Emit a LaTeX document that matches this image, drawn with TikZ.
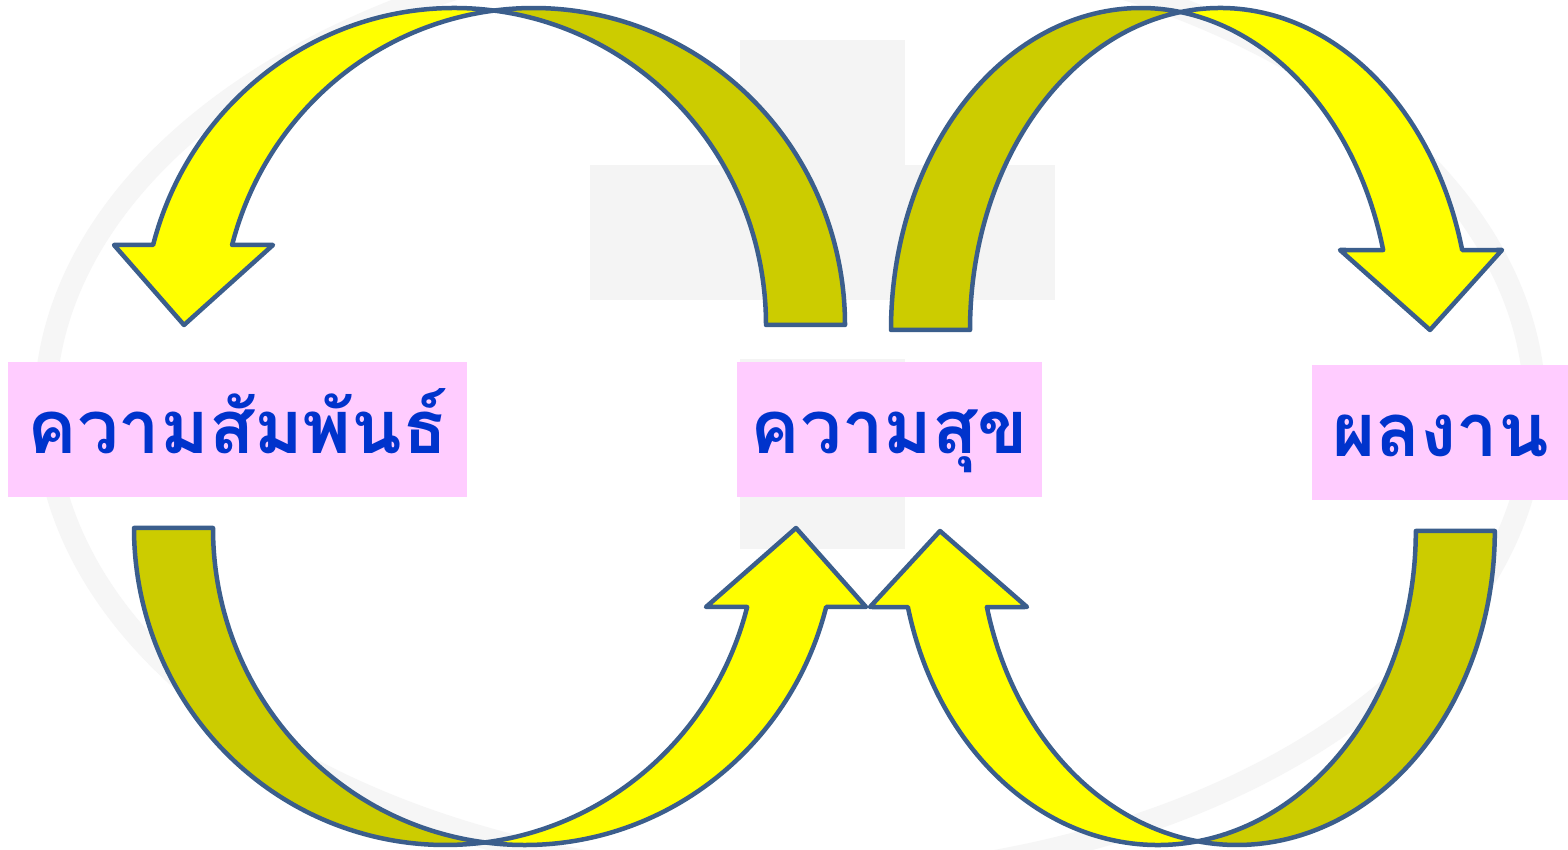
\documentclass[tikz,border=0pt]{standalone}
\usepackage{fontspec}
\newfontfamily\thaifont[Script=Thai]{Loma}
\definecolor{ayellow}{RGB}{255,255,0}
\definecolor{aolive}{RGB}{204,204,0}
\definecolor{apink}{RGB}{255,204,255}
\definecolor{ablue}{RGB}{0,51,204}
\definecolor{aedge}{RGB}{59,94,140}
\definecolor{wmark}{RGB}{244,244,244}
\definecolor{wring}{RGB}{246,246,246}
\begin{document}
\begin{tikzpicture}[x=1pt,y=1pt,
  band/.style={draw=aedge,line width=4.5pt,line join=round},
  yband/.style={band,fill=ayellow},
  oband/.style={band,fill=aolive},
  tagbox/.style={fill=apink,inner sep=0pt,minimum height=135pt,text height=49pt,text depth=0pt,
    font=\thaifont\bfseries\fontsize{74}{82}\selectfont,text=ablue}]
\useasboundingbox (0,0) rectangle (1568,849);
\fill[white] (0,0) rectangle (1568,849);

% faint watermark
\draw[wring,line width=22pt] (790,440) ellipse [x radius=745, y radius=470];
\fill[wmark] (740,490) rectangle (905,300);
\fill[wmark] (590,684) rectangle (1055,549);
\fill[wmark] (740,809) rectangle (905,684);

% boxes
\node[tagbox,minimum width=459pt] (rel) at (237.5,419.5) {ความสัมพันธ์};
\node[tagbox,minimum width=305pt] (hap) at (889.5,419.5) {ความสุข};
\node[tagbox,minimum width=257pt] (res) at (1440.5,416.5) {ผลงาน};

% arrow 1 (top left, pointing down-left)
\draw[oband] ([shift={(533.5,524)}]97.29:311.5 and 317) arc[start angle=97.29,end angle=0,x radius=311.5,y radius=317]
  -- (766,524) arc[start angle=0,end angle=82.71,x radius=311.5,y radius=317] -- cycle;
\draw[yband] ([shift={(454.5,524)}]82.71:311.5 and 317) arc[start angle=82.71,end angle=165.38,x radius=311.5,y radius=317]
  -- (114,604) -- (184,524) -- (273,604)
  -- ([shift={(533.5,524)}]165.38:311.5 and 317) arc[start angle=165.38,end angle=97.29,x radius=311.5,y radius=317] -- cycle;

% arrow 3 (top right, pointing down-right)
\draw[oband] ([shift={(1141,519)}]80.91:250 and 322) arc[start angle=80.91,end angle=180,x radius=250,y radius=322]
  -- (970,519) arc[start angle=180,end angle=99.09,x radius=250,y radius=322] -- cycle;
\draw[yband] ([shift={(1220,519)}]99.09:250 and 322) arc[start angle=99.09,end angle=14.38,x radius=250,y radius=322]
  -- (1502,599) -- (1430,519) -- (1340,599)
  -- ([shift={(1141,519)}]14.38:250 and 322) arc[start angle=14.38,end angle=80.91,x radius=250,y radius=322] -- cycle;

% arrow 2 (bottom left, pointing up-right)
\draw[oband] ([shift={(445.5,321)}]-82.71:311.5 and 317) arc[start angle=-82.71,end angle=-180,x radius=311.5,y radius=317]
  -- (213,321) arc[start angle=-180,end angle=-97.29,x radius=311.5,y radius=317] -- cycle;
\draw[yband] ([shift={(524.5,321)}]-97.29:311.5 and 317) arc[start angle=-97.29,end angle=-14.43,x radius=311.5,y radius=317]
  -- (866,242) -- (796,321) -- (706,242)
  -- ([shift={(445.5,321)}]-14.43:311.5 and 317) arc[start angle=-14.43,end angle=-82.71,x radius=311.5,y radius=317] -- cycle;

% arrow 4 (bottom right, pointing up-left)
\draw[oband] ([shift={(1237,318)}]-98.81:257.8 and 314) arc[start angle=-98.81,end angle=0,x radius=257.8,y radius=314]
  -- (1415.8,318) arc[start angle=0,end angle=-81.19,x radius=257.8,y radius=314] -- cycle;
\draw[yband] ([shift={(1158,318)}]-81.19:257.8 and 314) arc[start angle=-81.19,end angle=-165.99,x radius=257.8,y radius=314]
  -- (870,242) -- (940,318) -- (1027,242)
  -- ([shift={(1237,318)}]-165.99:257.8 and 314) arc[start angle=-165.99,end angle=-98.81,x radius=257.8,y radius=314] -- cycle;
\end{tikzpicture}
\end{document}
